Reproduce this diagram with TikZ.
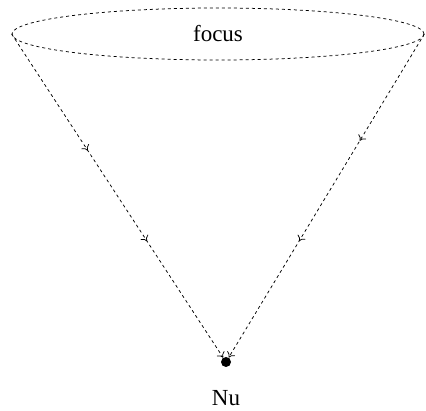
\documentclass[tikz,border=0pt]{standalone}
\usepackage{fontspec}
\setmainfont{Liberation Serif}
\usetikzlibrary{arrows.meta,decorations.markings,shapes.geometric}
\begin{document}
\begin{tikzpicture}[x=1pt,y=-1pt,
  prop/.style={dashed, line width=0.75pt, -{To[length=5pt,width=9pt]},
    decoration={markings,
      mark=at position #1 with {\arrow{To[length=5pt,width=9pt]}},
      mark=at position 0.64 with {\arrow{To[length=5pt,width=9pt]}}},
    postaction=decorate},
  lab/.style={font=\fontsize{23}{27}\selectfont}]
\useasboundingbox (0,0) rectangle (426,411);
\node[ellipse, draw, dashed, line width=0.75pt, minimum width=412pt, minimum height=52pt, inner sep=0pt, lab] (f) at (218,34) {focus};
\node[circle, fill, minimum size=10pt, inner sep=0pt] (nu) at (226,362) {};
\node[lab] (lbl) at (226,398) {Nu};
\draw[prop=0.36] (f.west) -- (nu);
\draw[prop=0.33] (f.east) -- (nu);
\end{tikzpicture}
\end{document}
